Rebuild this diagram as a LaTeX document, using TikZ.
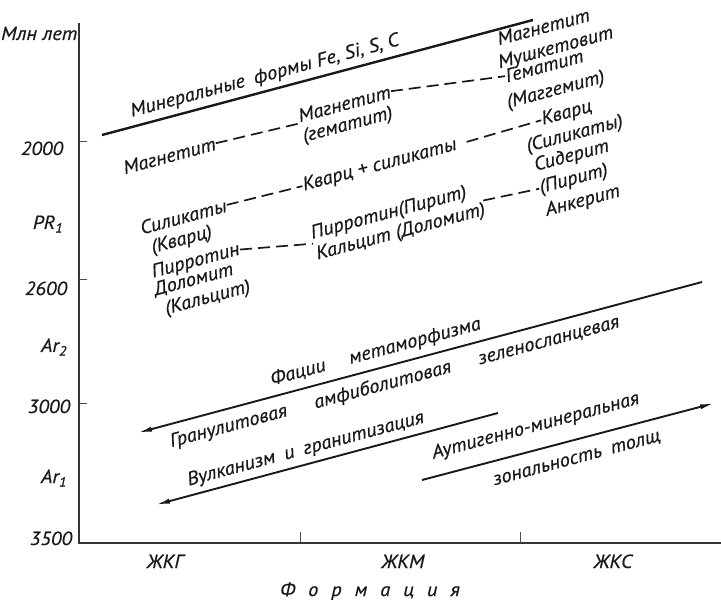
\documentclass[tikz,border=0pt]{standalone}
\usepackage{fontspec}
\setmainfont{PT Sans}[FakeStretch=1.07,FakeBold=0.5]
\usetikzlibrary{arrows.meta}

\begin{document}
\begin{tikzpicture}[x=1pt,y=-1pt,font=\fontsize{19}{21}\selectfont\itshape,>={Latex[length=15pt,width=5pt]},
 txt/.style={text=black!90,inner sep=0.5pt,rotate=15,anchor=base},
 lab/.style={text=black!90,inner sep=0.5pt,anchor=base},
 ax/.style={draw=black!80,line width=1.3pt},
 tick/.style={draw=black!70,line width=1pt},
 trend/.style={draw=black!90,line width=2.4pt},
 link/.style={draw=black!90,line width=1.7pt,dash pattern=on 12pt off 6pt},
 flow/.style={->,draw=black!90,line width=1.9pt}]
\useasboundingbox (0,0) rectangle (721,604);

% axes
\coordinate (top) at (79,23);
\coordinate (orig) at (79,543);
\coordinate (xend) at (721,543);
\draw[ax] (top) -- (orig) -- (xend);
\foreach \yy in {142,280,403} \draw[tick] (79,\yy) -- (87,\yy);
\foreach \xx in {300,520} \draw[tick] (\xx,543) -- (\xx,532);

\node[lab,anchor=base east] (unit) at (78,40) {Млн лет};
\node[lab] (t2000) at (42,155) {2000};
\node[lab] (pr1) at (48,229) {PR\textsubscript{1}};
\node[lab] (t2600) at (46,295) {2600};
\node[lab] (ar2) at (54,352) {Ar\textsubscript{2}};
\node[lab] (t3000) at (49,413) {3000};
\node[lab] (ar1) at (54,483) {Ar\textsubscript{1}};
\node[lab] (t3500) at (51,545) {3500};

\node[lab] (jkg) at (165,568) {ЖКГ};
\node[lab] (jkm) at (403,568) {ЖКМ};
\node[lab] (jks) at (613,568) {ЖКС};
\node[lab] (form) at (370,596) {\spaceskip=13pt Ф о р м а ц и я};

% mineral forms
\coordinate (m0) at (102,135);
\coordinate (m1) at (533,20);
\draw[trend] (m0) -- (m1);
\node[txt] (minf) at (266,81) {Минеральные\enspace формы Fe, Si, S, C};

\node[txt] (mag1) at (171,162) {Магнетит};
\node[txt] (mag2) at (346,110) {Магнетит};
\node[txt] (gem2) at (349,130) {(гематит)};
\node[txt] (mt3) at (545,33) {Магнетит};
\node[txt] (mu3) at (557,53) {Мушкетовит};
\node[txt] (ge3) at (546,72) {Гематит};
\node[txt] (mg3) at (557,95) {(Маггемит)};
\draw[link] (mag1.east) -- (mag2.south west);
\draw[link] (mag2.east) -- (ge3.west);

\node[txt] (sil1) at (185,223) {Силикаты};
\node[txt] (kva1) at (183,245) {(Кварц)};
\node[txt] (kq2) at (381,170) {Кварц + силикаты};
\node[txt] (kv3) at (568,118) {Кварц};
\node[txt] (si3) at (576,139) {(Силикаты)};
\draw[link] (sil1.east) -- (kq2.west);
\draw[link,shorten <=10pt] (kq2.east) -- (kv3.west);

\node[txt] (pir1) at (197,266) {Пирротин};
\node[txt] (dol1) at (195,285) {Доломит};
\node[txt] (kal1) at (209,303) {(Кальцит)};
\node[txt] (pp2) at (390,218) {Пирротин(Пирит)};
\node[txt] (kd2) at (402,237) {Кальцит (Доломит)};
\node[txt] (sd3) at (573,161) {Сидерит};
\node[txt] (pi3) at (575,184) {(Пирит)};
\node[txt] (an3) at (584,206) {Анкерит};
\draw[link] (pir1.east) -- (pp2.south west);
\draw[link] (kd2.north east) -- (pi3.west);

% facies and trends
\coordinate (f0) at (702,282);
\coordinate (f1) at (137,433);
\draw[flow] (f0) -- (f1);
\node[txt] (fac) at (377,357) {Фации\hspace{1.3em}метаморфизма};
\node[txt] (gran) at (396,387) {Гранулитовая\hspace{1.5em}амфиболитовая\hspace{1.5em}зеленосланцевая};

\coordinate (v0) at (498,413);
\coordinate (v1) at (155,505);
\draw[flow] (v0) -- (v1);
\node[txt] (vulk) at (307,454) {Вулканизм\enspace и\enspace гранитизация};

\coordinate (a0) at (422,480);
\coordinate (a1) at (715,403);
\draw[flow] (a0) -- (a1);
\node[txt] (aut) at (537,431) {Аутигенно-минеральная};
\node[txt] (zon) at (578,463) {зональность\enspace толщ};
\end{tikzpicture}
\end{document}
